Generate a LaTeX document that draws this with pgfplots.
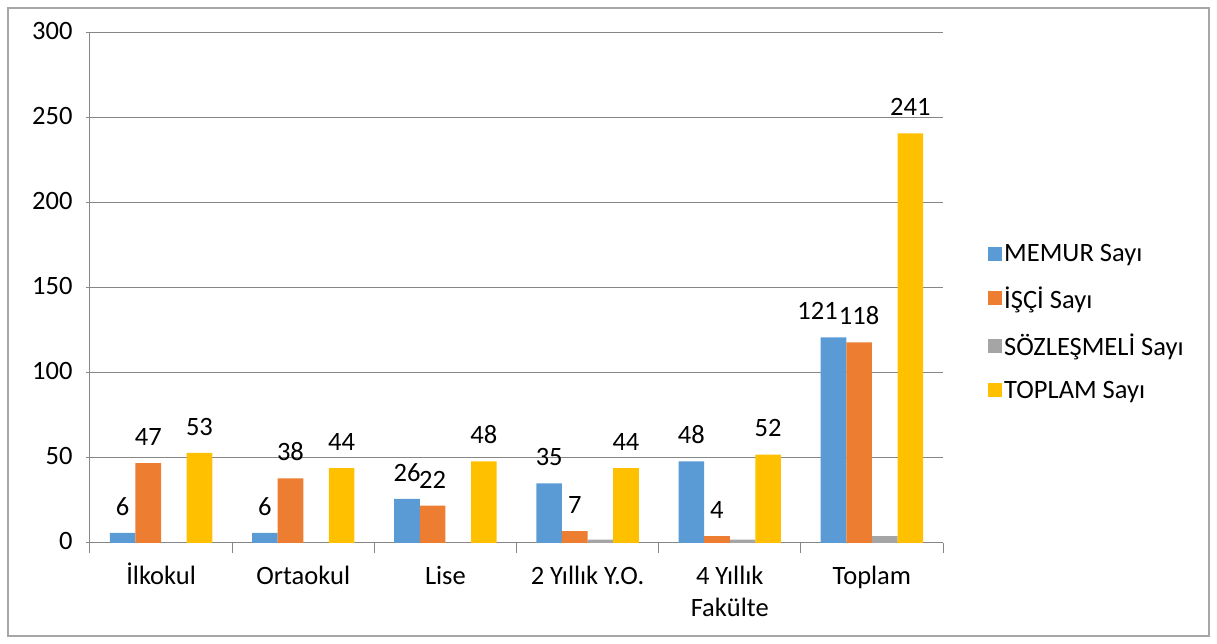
\documentclass[border=0pt]{standalone}
\usepackage{fontspec}
\setmainfont{Carlito}
\usepackage{pgfplots}
\pgfplotsset{compat=1.18}
\definecolor{cMemur}{HTML}{5B9BD5}
\definecolor{cIsci}{HTML}{ED7D31}
\definecolor{cSoz}{HTML}{A5A5A5}
\definecolor{cToplam}{HTML}{FFC000}
\definecolor{gridGray}{HTML}{868686}
\definecolor{frameGray}{HTML}{A6A6A6}

\begin{document}
\begin{tikzpicture}[font=\fontsize{26.5}{32}\selectfont]
  % page = 1217 x 644, axis origin at pixel (90,543)
  \useasboundingbox (-90pt,-101pt) rectangle (1127pt,543pt);
  \draw[frameGray,line width=1.2pt] (-82pt,-93pt) rectangle (1119pt,535pt);
  \begin{axis}[
    at={(0,0)},anchor=south west,
    scale only axis,width=853pt,height=510pt,
    xmin=-0.5,xmax=5.5,ymin=0,ymax=300,
    ytick={0,50,...,300},
    xtick={0,...,5},
    xticklabels={İlkokul,Ortaokul,Lise,2 Yıllık Y.O.,{4 Yıllık\\Fakülte},Toplam},
    typeset ticklabels with strut,
    xticklabel style={align=center,yshift=-8pt},
    yticklabel style={xshift=-10pt},
    minor xtick={-0.5,0.5,...,5.5},
    major x tick style={draw=none},
    tick align=outside,
    major tick length=8pt,minor tick length=10pt,
    tick style={gridGray,line width=1pt},
    ymajorgrids,grid style={gridGray,line width=1pt},
    axis lines=left,axis line style={-,draw=gridGray,line width=1pt},
    /pgf/number format/assume math mode=true,
    ybar=0pt,bar width=0.18,
    every axis plot post/.append style={legend image code/.code={\fill[##1] (0pt,-7pt) rectangle (14pt,7pt);}},
    legend style={at={(1.0528,0.4333)},anchor=west,draw=none,fill=none,
                  row sep=20pt,cells={anchor=west},inner sep=0pt},
    nodes near coords style={text=black,yshift=14pt},
  ]
    % the Toplam label of MEMUR sits a little to the left, as in the reference
    \addplot[fill=cMemur,draw=none,nodes near coords,
             visualization depends on={ifthenelse(x==5,-16,0)\as\dx},
             nodes near coords style={xshift=\dx pt}]
      coordinates {(0,6) (1,6) (2,26) (3,35) (4,48) (5,121)};
    \addplot[fill=cIsci,draw=none,nodes near coords]
      coordinates {(0,47) (1,38) (2,22) (3,7) (4,4) (5,118)};
    \addplot[fill=cSoz,draw=none]
      coordinates {(0,0) (1,0) (2,0) (3,2) (4,2) (5,4)};
    \addplot[fill=cToplam,draw=none,nodes near coords]
      coordinates {(0,53) (1,44) (2,48) (3,44) (4,52) (5,241)};
    \legend{MEMUR Sayı,İŞÇİ Sayı,SÖZLEŞMELİ Sayı,TOPLAM Sayı}
  \end{axis}
\end{tikzpicture}
\end{document}
